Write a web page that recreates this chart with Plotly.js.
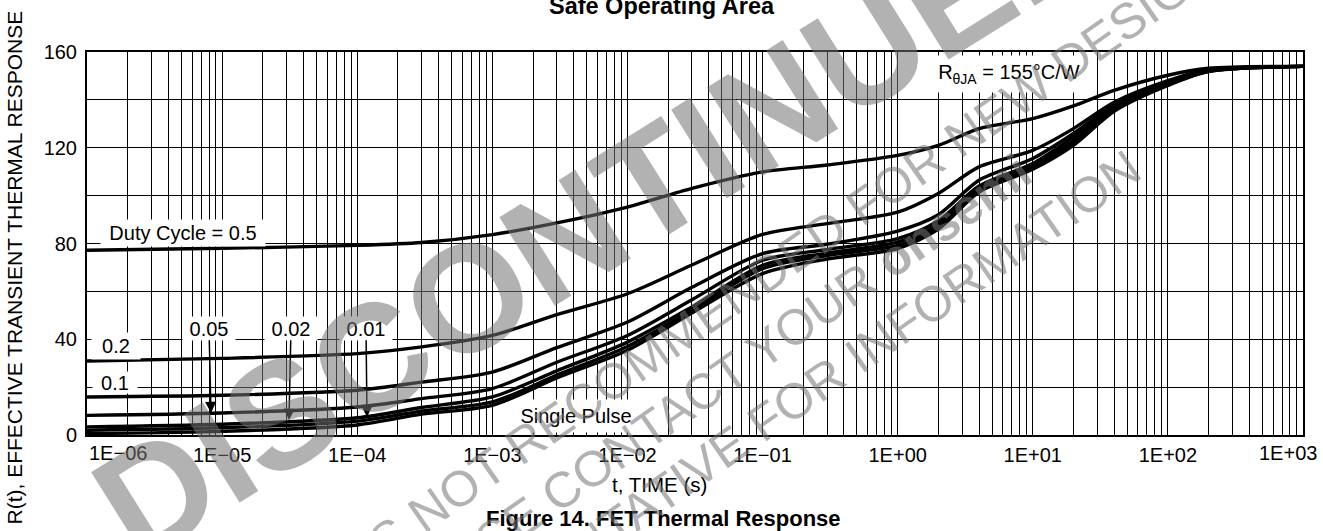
<!DOCTYPE html>
<html><head><meta charset="utf-8">
<script src="https://cdn.plot.ly/plotly-3.0.1.min.js"></script>
<style>html,body{margin:0;padding:0;background:#fff}#chart{width:1323px;height:531px}</style>
</head><body><div id="chart"></div>
<script>
// time (s)
const T = [1e-6,1e-5,1e-4,3e-4,1e-3,3e-3,1e-2,3e-2,1e-1,3e-1,1,2,4,10,20,40,100,200,1000];
// effective transient thermal response R(t)
const D050   = [77.2,78.0,79.2,80.4,83.7,88.6,95.2,103.0,109.9,112.8,116.8,121.0,128.0,132.2,137.5,144.0,150.3,153.2,154.0];
const D020   = [30.9,32.0,34.0,36.8,41.6,50.3,59.0,71.0,83.8,88.3,93.1,100.9,112.0,118.9,128.0,139.0,148.0,152.6,154.0];
const D010   = [15.9,16.6,18.7,22.1,26.3,36.5,47.2,61.7,75.8,79.7,85.2,92.0,106.4,115.5,126.0,138.0,147.5,152.4,154.0];
const D005   = [8.2,9.2,11.7,15.2,19.4,30.4,41.6,56.5,73.0,77.5,82.0,89.5,104.0,113.4,124.5,137.0,147.0,152.2,154.0];
const D002   = [3.4,4.5,7.2,11.5,15.9,26.8,38.8,53.5,70.9,76.0,80.6,88.0,102.8,112.5,123.0,136.3,146.6,152.0,154.0];
const D001   = [2.0,3.0,5.8,10.0,13.8,25.0,37.0,52.2,69.5,75.0,79.2,87.0,102.0,111.8,122.0,135.7,146.3,151.9,154.0];
const SINGLE = [0.6,1.5,4.2,8.7,12.4,23.8,35.4,51.0,67.4,73.5,77.9,86.0,101.5,111.0,121.0,135.2,146.0,151.8,154.0];

const SERIES = [D050, D020, D010, D005, D002, D001, SINGLE];
const SERIES_NAMES = ['Duty Cycle = 0.5','0.2','0.1','0.05','0.02','0.01','Single Pulse'];

const X_DECADES = [1e-6,1e-5,1e-4,1e-3,1e-2,1e-1,1e0,1e1,1e2,1e3];
const X_DECADE_LABELS = ['1E\u221206','1E\u221205','1E\u221204','1E\u221203','1E\u221202','1E\u221201','1E+00','1E+01','1E+02','1E+03'];
const Y_TICKS = [0,20,40,60,80,100,120,140,160];
const Y_TICK_LABELS = ['0','','40','','80','','120','','160'];

const FONT = 'Liberation Sans, Arial, Helvetica, sans-serif';

// grid at every 1..9 x decade; labels only on interior decades (ends placed as annotations)
const xTickVals = [], xTickText = [];
for (let d = 0; d < X_DECADES.length; d++) {
  const base = X_DECADES[d];
  const last = d === X_DECADES.length - 1;
  for (let m = 1; m <= (last ? 1 : 9); m++) {
    xTickVals.push(base * m);
    xTickText.push(m === 1 && d > 0 && !last ? X_DECADE_LABELS[d] : '');
  }
}

const traces = SERIES.map((ys, i) => ({
  x: T, y: ys, name: SERIES_NAMES[i], type: 'scatter', mode: 'lines',
  line: {color: '#000', width: 3.4, shape: 'spline', smoothing: 0.8},
  hoverinfo: 'x+y+name'
}));

const lbl = (text, x, y, w, h, extra) => Object.assign({
  text, x, y, xref: 'x', yref: 'y', showarrow: false, bgcolor: '#fff',
  width: w, height: h, borderpad: 1, font: {family: FONT, size: 20, color: '#000'}
}, extra || {});

const arrowLbl = (text, x, y, ax, ay) => lbl(text, x, y, 50, 21, {
  showarrow: true, ax, ay, arrowhead: 2, arrowsize: 1.5, arrowwidth: 1.5,
  arrowcolor: '#000', standoff: 0, startstandoff: 0
});

const WM = 'rgba(115,115,115,0.55)';
const wm = (text, x, y, size, angle, bold) => ({
  text: bold ? '<b>' + text + '</b>' : text, x, y, xref: 'paper', yref: 'paper',
  xanchor: 'center', yanchor: 'middle', showarrow: false, textangle: angle,
  font: {family: FONT, size, color: WM}
});

const annotations = [
  lbl('Duty Cycle = 0.5', -5.2932, 84.5, 162, 24),
  lbl('0.2', -5.7854, 37.18, 46, 24),
  lbl('0.1', -5.7928, 21.93, 42, 19),
  arrowLbl('0.05', -5.0822, 9.19, -2, -84.7),
  arrowLbl('0.02', -4.5049, 6.27, 2, -91.7),
  arrowLbl('0.01', -3.9276, 7.52, -1, -88.7),
  lbl('Single Pulse', -2.3807, 7.94, 120, 30),
  lbl('R<sub>\u03b8JA</sub> = 155\u00b0C/W', 0.8204, 151.0, 158, 34),
  // end decade labels
  {text: X_DECADE_LABELS[0], x: -6, y: -0.0475, xref: 'x', yref: 'paper', xanchor: 'left', yanchor: 'middle',
   showarrow: false, font: {family: FONT, size: 20, color: '#000'}},
  {text: X_DECADE_LABELS[9], x: 2.8853, y: -0.0475, xref: 'x', yref: 'paper', xanchor: 'center', yanchor: 'middle',
   showarrow: false, font: {family: FONT, size: 20, color: '#000'}},
  // axis titles
  {text: 't, TIME (s)', x: 0.4712, y: -0.1305, xref: 'paper', yref: 'paper', xanchor: 'center', yanchor: 'middle',
   showarrow: false, font: {family: FONT, size: 20.5, color: '#000'}},
  {text: 'R(t), EFFECTIVE TRANSIENT THERMAL RESPONSE', x: -0.0592, y: 0.4373, xref: 'paper', yref: 'paper',
   xanchor: 'center', yanchor: 'middle', textangle: -90, showarrow: false, font: {family: FONT, size: 21, color: '#000'}},
  {text: '<b>Figure 14. FET Thermal Response</b>', x: 0.4737, y: -0.2193, xref: 'paper', yref: 'paper',
   xanchor: 'center', yanchor: 'middle', showarrow: false, font: {family: FONT, size: 22, color: '#000'}},
  // watermark
  wm('DISCONTINUED', 0.4219, 0.5744, 152, -32, true),
  wm('THIS DEVICE IS NOT RECOMMENDED FOR NEW DESIGN', 0.4671, 0.2167, 50, -35, false),
  wm('PLEASE CONTACT YOUR <b>onsemi</b>', 0.5049, 0.1097, 50, -35, false),
  wm('REPRESENTATIVE FOR INFORMATION', 0.5510, 0.0209, 50, -35, false)
];

const layout = {
  width: 1323, height: 531,
  margin: {l: 87, r: 20, t: 52, b: 96, pad: 0},
  paper_bgcolor: '#fff', plot_bgcolor: '#fff',
  showlegend: false,
  font: {family: FONT, color: '#000'},
  title: {text: '<b>Safe Operating Area</b>', font: {family: FONT, size: 23.5, color: '#000'},
          x: 0.5, xref: 'container', xanchor: 'center', y: 0.9887, yref: 'container', yanchor: 'middle'},
  xaxis: {
    type: 'log', range: [-6, 3], tickmode: 'array', tickvals: xTickVals, ticktext: xTickText,
    tickangle: 0,
    showgrid: true, gridcolor: '#000', gridwidth: 1, zeroline: false,
    showline: true, linecolor: '#000', linewidth: 2, mirror: true,
    ticks: '', ticklabelstandoff: 1, tickfont: {family: FONT, size: 20, color: '#000'}
  },
  yaxis: {
    range: [0, 160], tickmode: 'array', tickvals: Y_TICKS, ticktext: Y_TICK_LABELS,
    showgrid: true, gridcolor: '#000', gridwidth: 1, zeroline: false,
    showline: true, linecolor: '#000', linewidth: 2, mirror: true,
    ticks: '', ticklabelstandoff: 4, tickfont: {family: FONT, size: 20, color: '#000'}
  },
  annotations
};

Plotly.newPlot('chart', traces, layout, {displayModeBar: false, staticPlot: true});
</script>
</body></html>
